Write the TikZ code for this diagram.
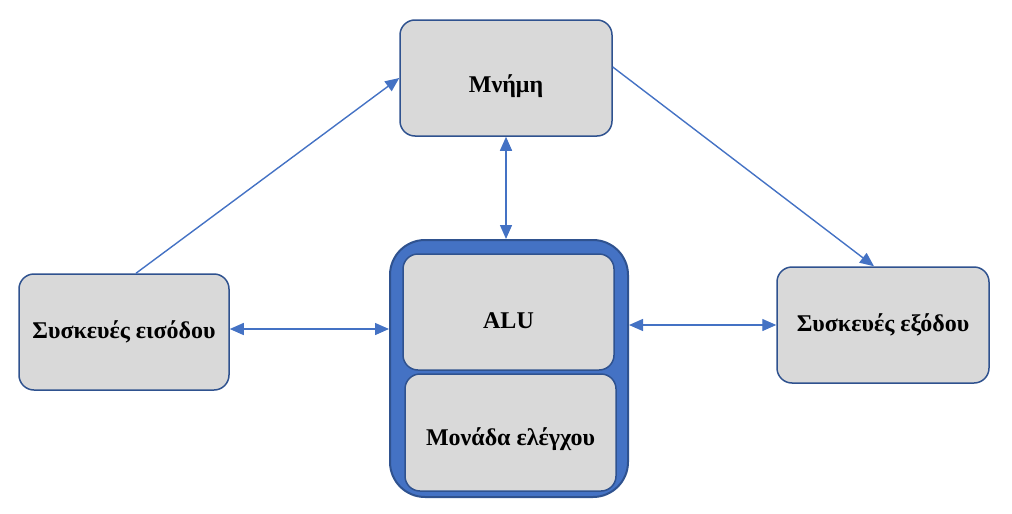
\documentclass[tikz,border=0pt]{standalone}
\usepackage{fontspec}
\setmainfont{Liberation Serif}
\usetikzlibrary{arrows.meta, positioning}
\definecolor{boxFill}{HTML}{D9D9D9}
\definecolor{boxLine}{HTML}{2F528F}
\definecolor{arrowBlue}{HTML}{4472C4}
\tikzstyle{fUnit} = [rectangle, rounded corners=15pt, minimum width=212pt, minimum height=116pt, text centered, draw=boxLine, line width=1.5pt, fill=boxFill, font=\fontsize{24}{29}\selectfont\bfseries]
\tikzstyle{fCpu} = [rectangle, rounded corners=35pt, minimum width=238pt, minimum height=257pt, draw=boxLine, line width=2pt, fill=arrowBlue]
\tikzstyle{fArrow} = [line width=1.4pt, draw=arrowBlue, -{Triangle[length=14pt,width=12pt]}]
\tikzstyle{fBiArrow} = [line width=1.4pt, draw=arrowBlue, {Triangle[length=14pt,width=12pt]}-{Triangle[length=14pt,width=12pt]}]
\begin{document}
\begin{tikzpicture}[x=1pt, y=-1pt]
    \useasboundingbox (0,0) rectangle (1012,514);
    \node (memory) [fUnit, text height=35pt] at (506,78) {Μνήμη};
    \node (input) [fUnit, minimum width=210pt] at (124,332) {Συσκευές εισόδου};
    \node (output) [fUnit] at (883,325) {Συσκευές εξόδου};
    \node (cpu) [fCpu] at (509,368.5) {};
    \node (alu) [fUnit, minimum width=211pt, text height=34pt] at (508.5,312) {ALU};
    \node (control) [fUnit, minimum width=211pt, minimum height=117pt, text height=31pt] at (510.5,432.5) {Μονάδα ελέγχου};

    \draw [fArrow] ([xshift=12pt]input.north) -- (memory.west);
    \draw [fArrow] ([yshift=11pt]memory.east) -- ([xshift=-9pt]output.north);
    \draw [fBiArrow] (memory.south) -- (memory.south |- cpu.north);
    \draw [fBiArrow] ([yshift=3pt]input.east) -- ([yshift=3pt]input.east -| cpu.west);
    \draw [fBiArrow] (cpu.east |- output.west) -- (output.west);
\end{tikzpicture}
\end{document}
